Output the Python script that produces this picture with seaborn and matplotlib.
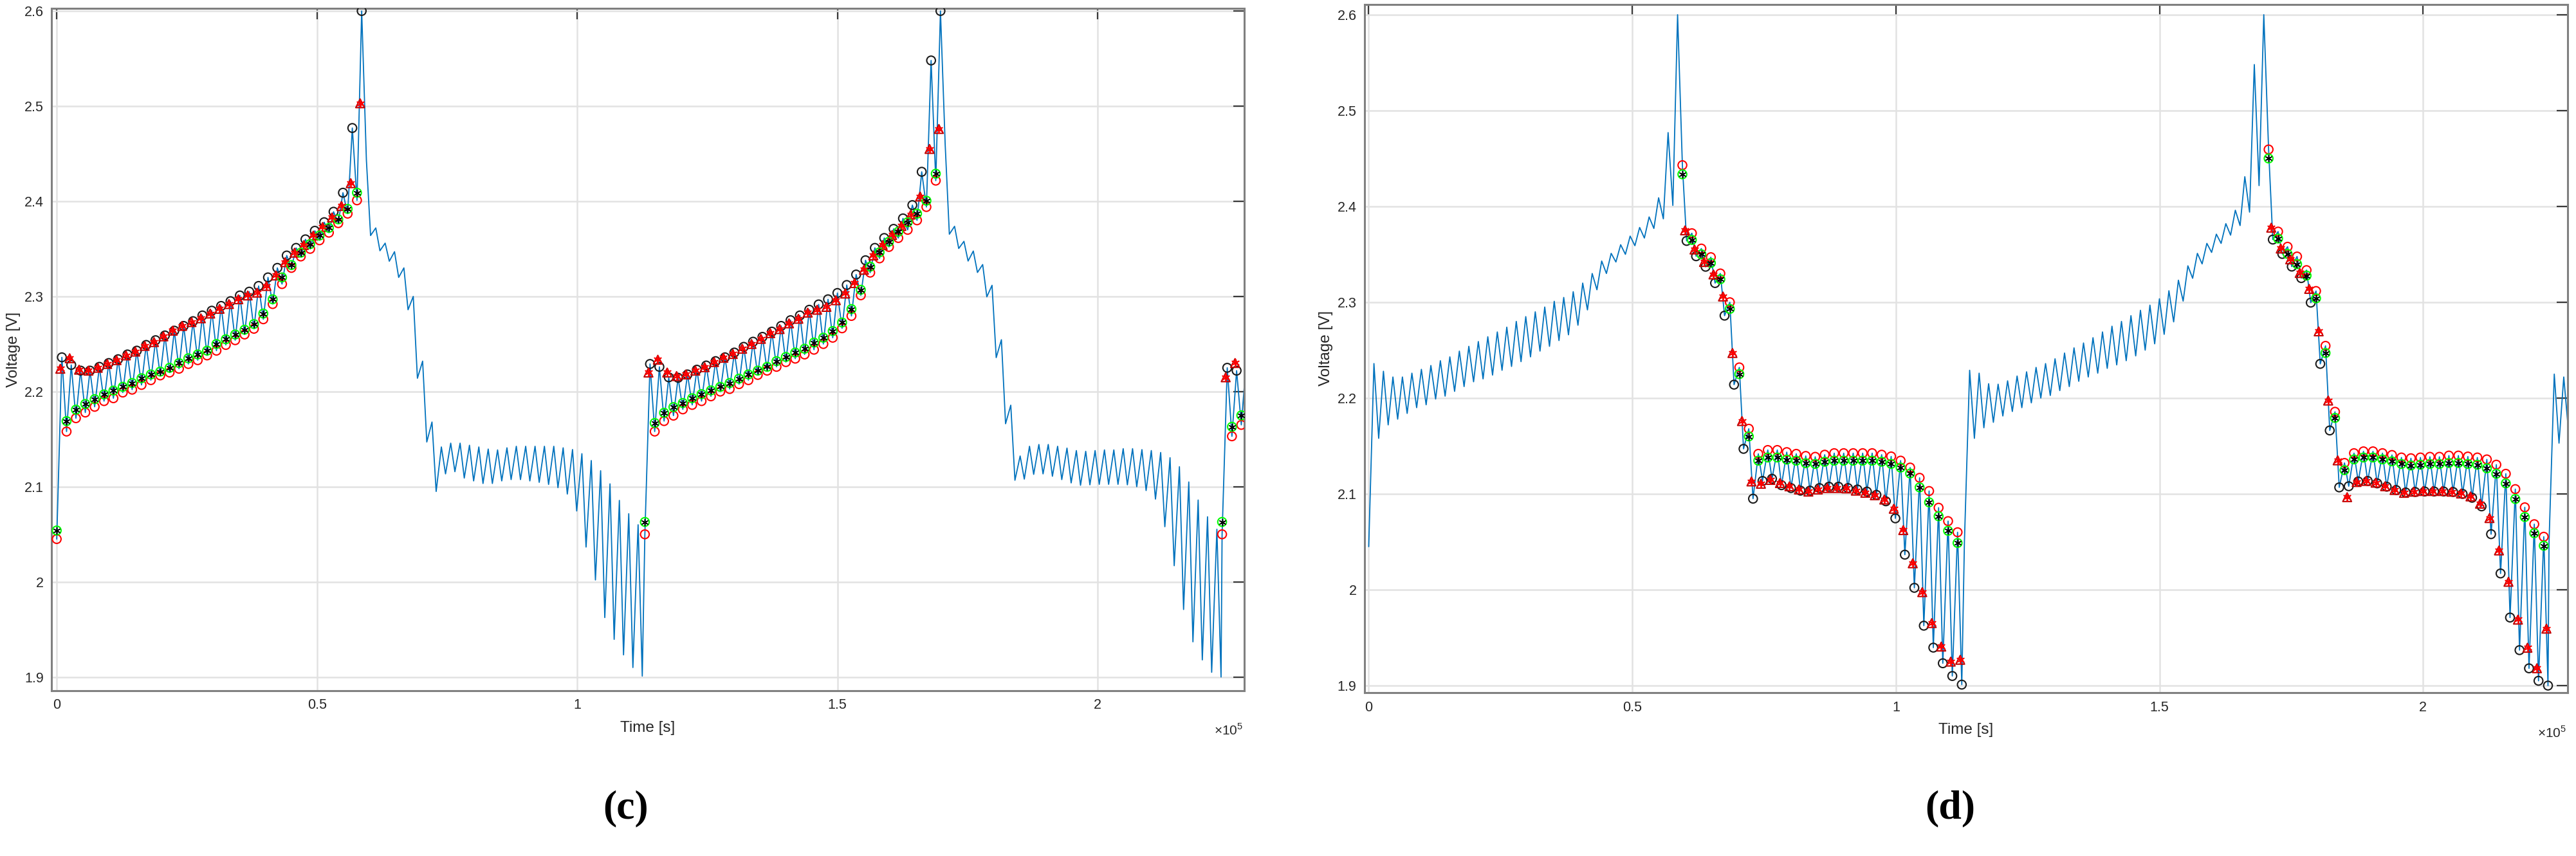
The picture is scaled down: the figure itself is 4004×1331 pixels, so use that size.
import numpy as np
import pandas as pd
import matplotlib
matplotlib.use("Agg")
import matplotlib.pyplot as plt
import seaborn as sns
from matplotlib.ticker import FuncFormatter, MultipleLocator

sns.set_style("white")
plt.rcParams['font.family'] = ['Liberation Sans', 'DejaVu Sans']
plt.rcParams['mathtext.fontset'] = 'custom'
plt.rcParams['mathtext.rm'] = 'Liberation Sans'

# tiempos [s]
PULSE = 1800
cycle_start = [0, 113000, 223900]
disch_start = [59500, 170700]
PEAK_LAG = 990      # inicio de ciclo -> primer pico de carga
TROUGH_LAG = 1890   # inicio de ciclo -> primer valle de carga
LO_LAG = 800        # descarga: maximo -> minimo del pulso
TRI_LEAD = 300      # los triangulos van un poco antes

# voltaje al inicio de cada ciclo (linea medida) y su estimacion verde
start_v = [2.045, 2.050, 2.050]
start_green = [2.054, 2.063, 2.063]

# ---- carga, ciclo 1 ----
peak_c1 = [2.236, 2.228, 2.222, 2.222, 2.226, 2.230, 2.234, 2.239, 2.243, 2.249, 2.254,
           2.259, 2.264, 2.269, 2.274, 2.280, 2.285, 2.290, 2.295, 2.301, 2.305, 2.311,
           2.320, 2.330, 2.343, 2.351, 2.360, 2.369, 2.378, 2.389, 2.409, 2.477, 2.600]
tri_c1 = [2.224, 2.235, 2.223, 2.222, 2.225, 2.229, 2.233, 2.238, 2.242, 2.248, 2.252,
          2.258, 2.264, 2.269, 2.273, 2.277, 2.282, 2.287, 2.292, 2.297, 2.301, 2.304,
          2.311, 2.322, 2.336, 2.346, 2.354, 2.364, 2.373, 2.383, 2.395, 2.419, 2.503]
trough_c1 = [2.158, 2.172, 2.178, 2.184, 2.190, 2.193, 2.199, 2.202, 2.207, 2.212, 2.217,
             2.220, 2.224, 2.229, 2.233, 2.238, 2.243, 2.249, 2.254, 2.260, 2.266, 2.276,
             2.292, 2.313, 2.330, 2.342, 2.350, 2.359, 2.367, 2.377, 2.387, 2.401]
green_c1 = [2.169, 2.181, 2.187, 2.192, 2.197, 2.201, 2.205, 2.209, 2.214, 2.218, 2.221,
            2.225, 2.230, 2.235, 2.239, 2.243, 2.250, 2.255, 2.260, 2.265, 2.271, 2.282,
            2.297, 2.320, 2.333, 2.346, 2.355, 2.364, 2.372, 2.381, 2.392, 2.409]

# ---- carga, ciclo 2 ----
peak_c2 = [2.229, 2.226, 2.215, 2.2145, 2.218, 2.223, 2.2274, 2.232, 2.236, 2.241, 2.247,
           2.2524, 2.2575, 2.263, 2.269, 2.275, 2.280, 2.286, 2.2916, 2.297, 2.3036, 2.312,
           2.323, 2.338, 2.351, 2.3614, 2.371, 2.382, 2.396, 2.431, 2.548, 2.600]
tri_c2 = [2.220, 2.2335, 2.220, 2.2163, 2.218, 2.222, 2.2256, 2.231, 2.2355, 2.2395, 2.245,
          2.250, 2.2554, 2.2614, 2.2657, 2.2717, 2.2765, 2.283, 2.286, 2.289, 2.296, 2.303,
          2.314, 2.328, 2.343, 2.354, 2.3645, 2.374, 2.386, 2.405, 2.455, 2.476]
trough_c2 = [2.158, 2.169, 2.1747, 2.1813, 2.186, 2.190, 2.195, 2.200, 2.2027, 2.2078, 2.212,
             2.2175, 2.222, 2.226, 2.231, 2.2346, 2.239, 2.244, 2.250, 2.2566, 2.2665,
             2.2795, 2.3012, 2.325, 2.340, 2.352, 2.3614, 2.370, 2.380, 2.394, 2.4217]
green_c2 = [2.167, 2.1777, 2.1837, 2.188, 2.193, 2.1973, 2.2012, 2.205, 2.209, 2.2136, 2.218,
            2.222, 2.226, 2.232, 2.2364, 2.241, 2.245, 2.2515, 2.2566, 2.2636, 2.2726,
            2.2867, 2.307, 2.3313, 2.3464, 2.3575, 2.368, 2.378, 2.387, 2.4006, 2.429]

# ---- carga, ciclo 3 (solo el comienzo) ----
peak_c3 = [2.225, 2.222, 2.228]
tri_c3 = [2.215, 2.230]
trough_c3 = [2.153, 2.165]
green_c3 = [2.163, 2.175]

# ---- descarga, ciclo 1 ----
hi_d1 = [2.443, 2.372, 2.356, 2.347, 2.330, 2.300, 2.232, 2.168, 2.1418, 2.1458, 2.1458,
         2.1436, 2.1418, 2.1396, 2.1387, 2.1409, 2.1425, 2.1425, 2.1425, 2.1425, 2.1425,
         2.1409, 2.1391, 2.1347, 2.1275, 2.1168, 2.103, 2.0856, 2.0716, 2.060]
green_d1 = [2.4335, 2.365, 2.350, 2.341, 2.324, 2.293, 2.225, 2.160, 2.1347, 2.138, 2.138,
            2.1358, 2.1347, 2.132, 2.1313, 2.1336, 2.1347, 2.1347, 2.1347, 2.1347, 2.1347,
            2.1336, 2.1313, 2.1275, 2.1213, 2.1068, 2.0912, 2.0767, 2.0615, 2.0488]
lo_d1 = [2.364, 2.348, 2.337, 2.320, 2.286, 2.214, 2.147, 2.095, 2.1135, 2.1158, 2.1091,
         2.1061, 2.1034, 2.1034, 2.1061, 2.1075, 2.1075, 2.1061, 2.1046, 2.1024, 2.099,
         2.0923, 2.0745, 2.0366, 2.002, 1.9625, 1.9396, 1.9233, 1.910, 1.901]
tri_d1 = [2.375, 2.355, 2.342, 2.329, 2.306, 2.247, 2.176, 2.113, 2.1106, 2.1146, 2.1113,
          2.1079, 2.1046, 2.1024, 2.1046, 2.1061, 2.1061, 2.1057, 2.1034, 2.1012, 2.0986,
          2.0941, 2.0845, 2.0622, 2.0276, 1.9975, 1.9652, 1.9407, 1.925, 1.9269]

# ---- descarga, ciclo 2 ----
hi_d2 = [2.4594, 2.3737, 2.3579, 2.3477, 2.3335, 2.3117, 2.2545, 2.1857, 2.1323, 2.1425,
         2.1444, 2.1444, 2.1425, 2.1406, 2.138, 2.1372, 2.138, 2.1387, 2.1387, 2.140, 2.140,
         2.139, 2.138, 2.136, 2.1305, 2.121, 2.105, 2.086, 2.0684, 2.0553]
green_d2 = [2.450, 2.3665, 2.3504, 2.3398, 2.3278, 2.3041, 2.247, 2.1793, 2.1248, 2.136,
            2.138, 2.138, 2.136, 2.134, 2.1312, 2.1297, 2.1305, 2.1312, 2.1312, 2.1323,
            2.1323, 2.1312, 2.1305, 2.1267, 2.121, 2.111, 2.0947, 2.0759, 2.059, 2.0459]
lo_d2 = [2.3654, 2.3504, 2.3372, 2.3252, 2.2996, 2.2357, 2.1662, 2.1068, 2.108, 2.113,
         2.1135, 2.111, 2.1075, 2.104, 2.1015, 2.102, 2.1025, 2.1025, 2.1025, 2.102, 2.100,
         2.096, 2.087, 2.058, 2.017, 1.971, 1.937, 1.918, 1.905, 1.900]
tri_d2 = [2.3778, 2.356, 2.3447, 2.3305, 2.3139, 2.2696, 2.1974, 2.135, 2.0966, 2.1124,
          2.1135, 2.1117, 2.108, 2.1041, 2.1011, 2.1023, 2.103, 2.103, 2.103, 2.1023,
          2.1004, 2.0974, 2.0898, 2.0748, 2.041, 2.0083, 1.9688, 1.9395, 1.9181, 1.9594]

charge = [(peak_c1, tri_c1, trough_c1, green_c1),
          (peak_c2, tri_c2, trough_c2, green_c2),
          (peak_c3, tri_c3, trough_c3, green_c3)]
disch = [(hi_d1, green_d1, lo_d1, tri_d1),
         (hi_d2, green_d2, lo_d2, tri_d2)]


def pulse_t(t0, lag, n):
    return t0 + lag + PULSE * np.arange(n)


# serie medida (linea azul)
tt, vv = [], []
for i, (pk, tri, rc, gc) in enumerate(charge):
    t0 = cycle_start[i]
    tt += [t0] + list(pulse_t(t0, PEAK_LAG, len(pk))) + list(pulse_t(t0, TROUGH_LAG, len(rc)))
    vv += [start_v[i]] + pk + rc
for i, (hi, gc, lo, tri) in enumerate(disch):
    d0 = disch_start[i]
    tt += list(pulse_t(d0, 0, len(hi))) + list(pulse_t(d0, LO_LAG, len(lo)))
    vv += hi + lo
volt = pd.DataFrame({"t": tt, "v": vv}).sort_values("t")

BLUE = "#0072BD"
GREEN = "#00FF00"


def hollow(ax, t, v, color, marker="o", s=95, lw=1.5, z=4):
    sns.scatterplot(x=t, y=v, ax=ax, marker=marker, s=s, facecolor="none",
                    edgecolor=color, linewidth=lw, legend=False, zorder=z)


def aster(ax, t, v, color, s=55, lw=1.1):
    sns.scatterplot(x=t, y=v, ax=ax, marker=(6, 2, 0), s=s, color=color,
                    linewidth=lw, legend=False, zorder=6)


def style_axes(ax, xlim, ylim):
    ax.set_xlim(*xlim)
    ax.set_ylim(*ylim)
    ax.xaxis.set_major_locator(MultipleLocator(50000))
    ax.yaxis.set_major_locator(MultipleLocator(0.1))
    ax.xaxis.set_major_formatter(FuncFormatter(lambda x, p: f"{x / 1e5:g}"))
    ax.yaxis.set_major_formatter(FuncFormatter(lambda y, p: f"{y:g}"))
    ax.grid(True, color="#e2e2e2", lw=1.8, zorder=0)
    ax.set_axisbelow(True)
    ax.tick_params(direction="in", length=12, width=1.6, top=True, right=True,
                   labelsize=15.5, color="#3a3a3a", labelcolor="#262626", pad=9)
    for sp in ax.spines.values():
        sp.set_color("#808080")
        sp.set_linewidth(2.2)
    ax.set_xlabel("Time [s]", fontsize=17.5, color="#262626")
    ax.set_ylabel("Voltage [V]", fontsize=17.5, color="#262626")
    ax.xaxis.set_label_coords(0.5, -0.044)
    ax.yaxis.set_label_coords(-0.026, 0.5)
    ax.text(0.999, -0.058, r"$\times10^{5}$", transform=ax.transAxes, ha="right",
            va="center", fontsize=15, color="#262626")


fig = plt.figure(figsize=(40.04, 13.31), dpi=100)
ax_c = fig.add_axes([0.0201, 0.1932, 0.4628, 0.7973])
ax_d = fig.add_axes([0.5297, 0.1908, 0.4670, 0.8041])

xlim_c = (-950, 228100)
xlim_d = (-800, 227400)

for ax in (ax_c, ax_d):
    sns.lineplot(data=volt, x="t", y="v", ax=ax, sort=False, estimator=None,
                 color=BLUE, linewidth=1.3, zorder=2)

TRI_EDGE = "#c00000"

# (c): marcas sobre la carga
for i, (pk, tri, rc, gc) in enumerate(charge):
    t0 = cycle_start[i]
    tp = pulse_t(t0, PEAK_LAG, len(pk))
    keep = tp < xlim_c[1]
    hollow(ax_c, tp[keep], np.array(pk)[keep], "#1a1a1a")
    ttri = pulse_t(t0, PEAK_LAG, len(tri)) - TRI_LEAD
    hollow(ax_c, ttri, tri, TRI_EDGE, marker="^", s=95, lw=1.5, z=5)
    aster(ax_c, ttri, tri, "red", s=70, lw=1.3)
    tr = pulse_t(t0, TROUGH_LAG, len(rc))
    hollow(ax_c, np.r_[t0, tr], [start_v[i]] + rc, "red")
    tg = pulse_t(t0, TROUGH_LAG, len(gc))
    hollow(ax_c, np.r_[t0, tg], [start_green[i]] + gc, GREEN, z=5)
    aster(ax_c, np.r_[t0, tg], [start_green[i]] + gc, "black")

# (d): marcas sobre la descarga
for i, (hi, gc, lo, tri) in enumerate(disch):
    d0 = disch_start[i]
    th = pulse_t(d0, 0, len(hi))
    tl = pulse_t(d0, LO_LAG, len(lo))
    hollow(ax_d, th, hi, "red")
    hollow(ax_d, th, gc, GREEN, z=5)
    aster(ax_d, th, gc, "black")
    hollow(ax_d, tl, lo, "#1a1a1a")
    hollow(ax_d, tl - TRI_LEAD, tri, TRI_EDGE, marker="^", s=95, lw=1.5, z=5)
    aster(ax_d, tl - TRI_LEAD, tri, "red", s=70, lw=1.3)

style_axes(ax_c, xlim_c, (1.8857, 2.603))
style_axes(ax_d, xlim_d, (1.8926, 2.6108))

fig.text(0.243, 0.055, "(c)", ha="center", va="center", fontsize=46,
         family="Liberation Serif", weight="bold", color="black")
fig.text(0.757, 0.055, "(d)", ha="center", va="center", fontsize=46,
         family="Liberation Serif", weight="bold", color="black")

fig.savefig("out.png", dpi=100)
